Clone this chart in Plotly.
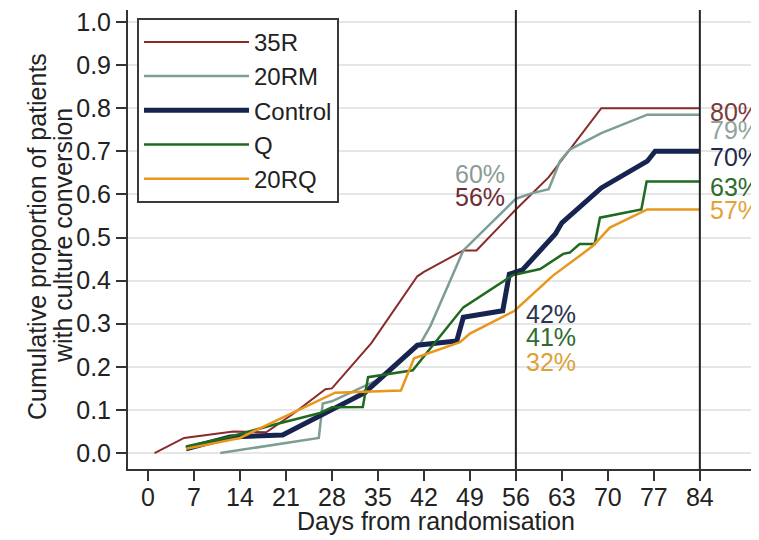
import numpy as np
import plotly.graph_objects as go

# ---- data ----
days_35R = [1, 5.5, 13, 18, 22, 27, 28, 34, 41, 42, 48, 50, 56, 61, 64, 69, 84]
cum_35R = [0, 0.035, 0.05, 0.048, 0.09, 0.148, 0.15, 0.255, 0.41, 0.42, 0.47, 0.47, 0.565, 0.64, 0.70, 0.80, 0.80]

days_20RM = [11, 26, 26.6, 28, 35, 41.5, 43, 48, 56, 58.5, 61, 62.7, 64.2, 69, 76, 84]
cum_20RM = [0, 0.035, 0.115, 0.12, 0.17, 0.255, 0.295, 0.47, 0.59, 0.603, 0.612, 0.677, 0.704, 0.742, 0.785, 0.785]

days_control = [5.8, 12.5, 20.5, 25.7, 28, 33, 41, 47, 48, 54, 55, 57, 62, 63, 64.2, 69, 76, 77.2, 84]
cum_control = [0.01, 0.037, 0.042, 0.084, 0.1, 0.14, 0.25, 0.26, 0.315, 0.33, 0.415, 0.425, 0.508, 0.534, 0.55, 0.615, 0.677, 0.70, 0.70]

days_Q = [5.8, 12.5, 19, 26.2, 28, 32.7, 33.5, 40.3, 48, 55.6, 59.7, 63.2, 64.2, 65.7, 68, 68.8, 75.1, 75.9, 84]
cum_Q = [0.015, 0.038, 0.065, 0.093, 0.106, 0.107, 0.176, 0.192, 0.338, 0.413, 0.427, 0.462, 0.465, 0.485, 0.485, 0.546, 0.565, 0.63, 0.63]

days_20RQ = [5.8, 14, 19.6, 27.2, 28.5, 38.5, 40.5, 47.5, 49, 55.8, 61.6, 67.7, 70.3, 76, 84]
cum_20RQ = [0.01, 0.035, 0.076, 0.13, 0.14, 0.145, 0.22, 0.257, 0.277, 0.33, 0.411, 0.48, 0.523, 0.565, 0.565]

series_names = ["35R", "20RM", "Control", "Q", "20RQ"]
labels_day56 = ["56%", "60%", "42%", "41%", "32%"]
labels_day84 = ["80%", "79%", "70%", "63%", "57%"]
x_ticks = [0, 7, 14, 21, 28, 35, 42, 49, 56, 63, 70, 77, 84]
y_ticks = [0.0, 0.1, 0.2, 0.3, 0.4, 0.5, 0.6, 0.7, 0.8, 0.9, 1.0]
ref_days = [56, 84]
x_title = "Days from randomisation"
y_title_lines = ["Cumulative proportion of patients", "with culture conversion"]

# ---- styles ----
colors = ["#8b2a2a", "#7d9e94", "#172450", "#1f6a1f", "#e8961c"]
label_colors = ["#6e2b35", "#8a9c95", "#2a3350", "#2e6b2e", "#dba23a"]
label84_colors = ["#7a3a3a", "#8fa39c", "#1f2a4d", "#2e6b2e", "#e3a238"]
widths = [2, 2.5, 5, 2.5, 2.5]
all_days = [days_35R, days_20RM, days_control, days_Q, days_20RQ]
all_cum = [cum_35R, cum_20RM, cum_control, cum_Q, cum_20RQ]

FONT = "Liberation Sans, Arial, sans-serif"
TXT = "#222"
fig = go.Figure()
for name, d, c, col, w in zip(series_names, all_days, all_cum, colors, widths):
    fig.add_trace(go.Scatter(x=d, y=c, mode="lines", name=name,
                             line=dict(color=col, width=w)))

for xd in ref_days:
    fig.add_shape(type="line", x0=xd, x1=xd, xref="x", y0=0, y1=1, yref="paper",
                  line=dict(color="#222", width=2))

# labels at day 56 (pixel offsets from the curve value)
shift56 = [12, 25, -42, -63, -52]
anchor56 = ["right", "right", "left", "left", "left"]
xs56 = [-9, -9, 8, 8, 8]
for i in range(5):
    v = float(np.interp(56, all_days[i], all_cum[i]))
    fig.add_annotation(x=56, y=v, text=labels_day56[i], showarrow=False,
                       xanchor=anchor56[i], xshift=xs56[i], yshift=shift56[i],
                       font=dict(family=FONT, size=25, color=label_colors[i]))
shift84 = [-4, -15, -6, -6, -1]
for i in range(5):
    v = float(np.interp(84, all_days[i], all_cum[i]))
    fig.add_annotation(x=84, y=v, text=labels_day84[i], showarrow=False,
                       xanchor="left", xshift=8, yshift=shift84[i],
                       font=dict(family=FONT, size=25, color=label84_colors[i]))

# axis titles
fig.add_annotation(x=0.489, y=-0.1128, xref="paper", yref="paper", text=x_title,
                   showarrow=False, xanchor="center", yanchor="middle",
                   font=dict(family=FONT, size=25, color=TXT))
for xp, t in zip([-0.1447, -0.1033], y_title_lines):
    fig.add_annotation(x=xp, y=0.5076, xref="paper", yref="paper", text=t,
                       showarrow=False, textangle=-90, xanchor="center", yanchor="middle",
                       font=dict(family=FONT, size=25, color=TXT))

fig.update_layout(
    width=751, height=532,
    margin=dict(l=120, r=2, t=0, b=71),
    paper_bgcolor="white", plot_bgcolor="white",
    font=dict(family=FONT, size=25, color=TXT),
    showlegend=True,
    legend=dict(x=0.0143, y=0.983, xanchor="left", yanchor="top",
                bgcolor="white", bordercolor="#3a3a3a", borderwidth=2,
                itemwidth=105, font=dict(family=FONT, size=24, color=TXT),
                traceorder="normal"),
)
fig.update_xaxes(range=[-3.04, 92.7], tickvals=x_ticks, ticks="outside", ticklen=10,
                 tickwidth=2, tickcolor="#333", showline=True, linecolor="#333", linewidth=2,
                 showgrid=False, zeroline=False, ticklabelstandoff=-5,
                 tickfont=dict(family=FONT, size=25, color=TXT))
fig.update_yaxes(range=[-0.037, 1.0277], tickvals=y_ticks, tickformat=".1f",
                 ticks="outside", ticklen=10, tickwidth=2, tickcolor="#333",
                 showline=True, linecolor="#333", linewidth=2, ticklabeloverflow="allow",
                 showgrid=True, gridcolor="#e6e6e6", gridwidth=1.5, zeroline=False,
                 tickfont=dict(family=FONT, size=25, color=TXT))

fig.write_html("out.html")
